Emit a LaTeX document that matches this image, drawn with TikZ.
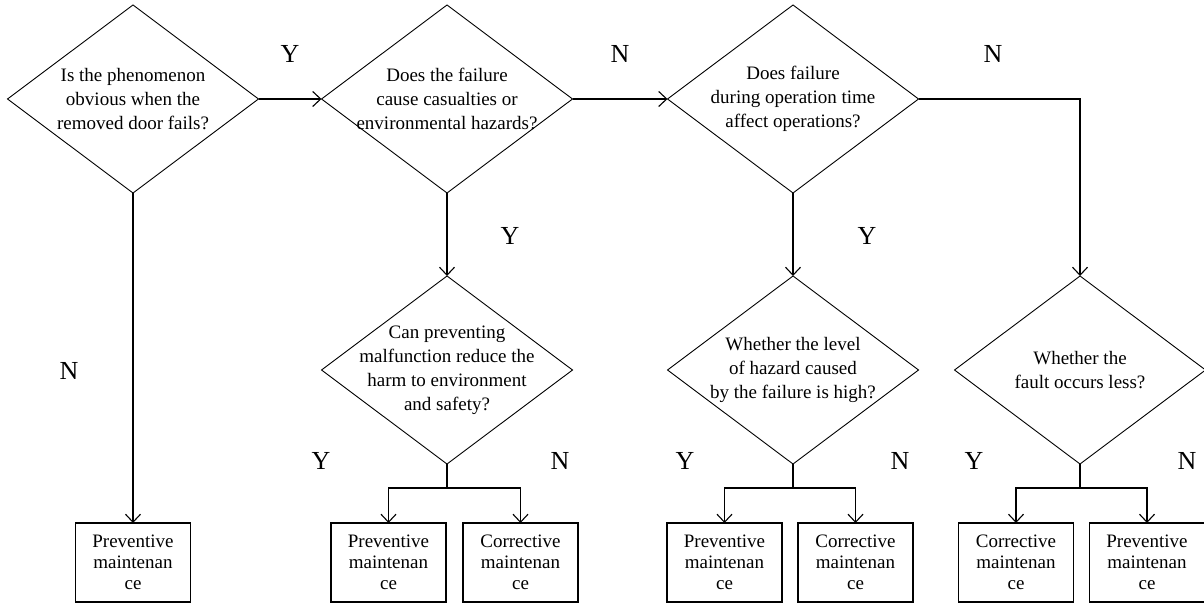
\documentclass[tikz,border=0pt]{standalone}
\usepackage{fontspec}
\setmainfont{Liberation Serif}
\usetikzlibrary{shapes.geometric,arrows.meta}
\tikzset{
  dia/.style={diamond,draw,line width=0.9pt,minimum width=251pt,minimum height=188pt,inner sep=0pt,outer sep=0pt},
  dtext/.style={align=center,font=\fontsize{19}{24}\selectfont,inner sep=0pt},
  res/.style={rectangle,draw,line width=1.1pt,minimum width=115pt,minimum height=79pt,inner sep=0pt,outer sep=0pt,align=center,font=\fontsize{19}{21}\selectfont},
  arr/.style={line width=1.2pt,-{Straight Barb[length=8pt,width=15pt,line width=1.1pt]}},
  ln/.style={line width=1.2pt},
  yn/.style={font=\fontsize{26}{28}\selectfont,inner sep=0pt}
}
\begin{document}
\begin{tikzpicture}[x=1pt,y=-1pt]
\useasboundingbox (0,0) rectangle (1204,604);
% diamonds
\node[dia] (d1) at (133,99) {};
\node[dtext] (t1) at (133,99) {Is the phenomenon\\obvious when the\\removed door fails?};
\node[dia] (d2) at (447,99) {};
\node[dtext] (t2) at (447,99) {Does the failure\\cause casualties or\\environmental hazards?};
\node[dia] (d3) at (793,99) {};
\node[dtext] (t3) at (793,99) {Does failure\\during operation time\\affect operations?};
\node[dia] (d4) at (447,370) {};
\node[dtext] (t4) at (447,370) {Can preventing\\malfunction reduce the\\harm to environment\\and safety?};
\node[dia] (d5) at (793,370) {};
\node[dtext] (t5) at (793,370) {Whether the level\\of hazard caused\\by the failure is high?};
\node[dia] (d6) at (1080,370) {};
\node[dtext] (t6) at (1080,370) {Whether the\\fault occurs less?};
% result boxes
\node[res] (b1) at (133,562.5) {Preventive\\maintenan\\ce};
\node[res] (b2) at (388.5,562.5) {Preventive\\maintenan\\ce};
\node[res] (b3) at (520.5,562.5) {Corrective\\maintenan\\ce};
\node[res] (b4) at (724.5,562.5) {Preventive\\maintenan\\ce};
\node[res] (b5) at (855.5,562.5) {Corrective\\maintenan\\ce};
\node[res] (b6) at (1016,562.5) {Corrective\\maintenan\\ce};
\node[res] (b7) at (1147,562.5) {Preventive\\maintenan\\ce};
% junctions
\coordinate (j4) at (447,488);
\coordinate (j5) at (793,488);
\coordinate (j6) at (1080,488);
% connectors
\draw[arr] (d1.east) -- (d2.west);
\draw[arr] (d2.east) -- (d3.west);
\draw[arr] (d3.east) -| (d6.north);
\draw[arr] (d2.south) -- (d4.north);
\draw[arr] (d3.south) -- (d5.north);
\draw[arr] (d1.south) -- (b1.north);
\draw[ln] (d4.south) -- (j4);
\draw[arr] (j4) -| (b2.north);
\draw[arr] (j4) -| (b3.north);
\draw[ln] (d5.south) -- (j5);
\draw[arr] (j5) -| (b4.north);
\draw[arr] (j5) -| (b5.north);
\draw[ln] (d6.south) -- (j6);
\draw[arr] (j6) -| (b6.north);
\draw[arr] (j6) -| (b7.north);
% Y/N labels
\node[yn] (l1) at (290,54) {Y};
\node[yn] (l2) at (620,54) {N};
\node[yn] (l3) at (993,54) {N};
\node[yn] (l4) at (510,236) {Y};
\node[yn] (l5) at (867,236) {Y};
\node[yn] (l6) at (69,371) {N};
\node[yn] (l7) at (321,461) {Y};
\node[yn] (l8) at (560,461) {N};
\node[yn] (l9) at (685,461) {Y};
\node[yn] (l10) at (900,461) {N};
\node[yn] (l11) at (974,461) {Y};
\node[yn] (l12) at (1187,461) {N};
\end{tikzpicture}
\end{document}
